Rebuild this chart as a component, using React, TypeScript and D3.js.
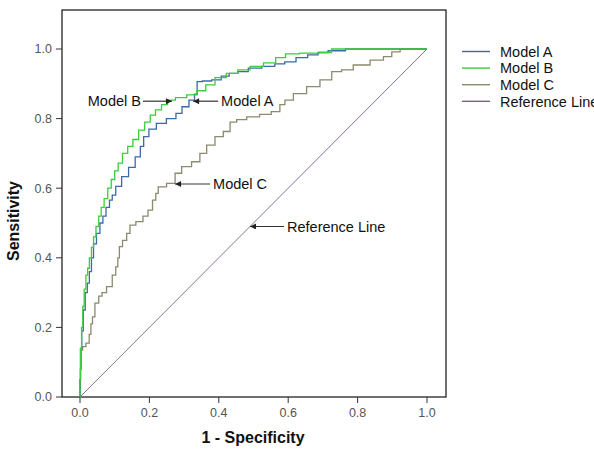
import React from "react";
import * as d3 from "d3";

// ROC curve points: [1 - specificity, sensitivity]
const modelA: [number, number][] = [
  [0, 0], [0, 0.05], [0.003, 0.14], [0.007, 0.19], [0.012, 0.25], [0.018, 0.3],
  [0.024, 0.327], [0.03, 0.36], [0.036, 0.4], [0.042, 0.44], [0.053, 0.47],
  [0.062, 0.5], [0.07, 0.52], [0.08, 0.545], [0.09, 0.566], [0.096, 0.58],
  [0.11, 0.605], [0.13, 0.633], [0.15, 0.66], [0.168, 0.69], [0.18, 0.72],
  [0.187, 0.748], [0.21, 0.77], [0.23, 0.786], [0.268, 0.8], [0.285, 0.815],
  [0.303, 0.834], [0.325, 0.853], [0.335, 0.87], [0.34, 0.906], [0.365, 0.908],
  [0.394, 0.911], [0.42, 0.922], [0.44, 0.93], [0.47, 0.935], [0.5, 0.945],
  [0.548, 0.95], [0.575, 0.957], [0.605, 0.963], [0.64, 0.975], [0.672, 0.983],
  [0.7, 0.99], [0.73, 0.995], [0.8, 1.0], [1, 1],
];

const modelB: [number, number][] = [
  [0, 0], [0, 0.05], [0.003, 0.14], [0.006, 0.2], [0.01, 0.26], [0.014, 0.31],
  [0.02, 0.35], [0.024, 0.37], [0.03, 0.4], [0.036, 0.43], [0.042, 0.46],
  [0.05, 0.49], [0.058, 0.52], [0.064, 0.545], [0.075, 0.57], [0.085, 0.6],
  [0.095, 0.625], [0.105, 0.65], [0.115, 0.672], [0.13, 0.7], [0.145, 0.72],
  [0.16, 0.74], [0.178, 0.767], [0.195, 0.79], [0.21, 0.81], [0.225, 0.825],
  [0.245, 0.84], [0.26, 0.853], [0.29, 0.86], [0.325, 0.868], [0.35, 0.88],
  [0.375, 0.897], [0.403, 0.918], [0.44, 0.93], [0.47, 0.94], [0.51, 0.95],
  [0.548, 0.96], [0.58, 0.975], [0.605, 0.986], [0.66, 0.988], [0.72, 0.99],
  [0.73, 1.0], [1, 1],
];

const modelC: [number, number][] = [
  [0, 0], [0.002, 0.08], [0.005, 0.135], [0.01, 0.145], [0.024, 0.155],
  [0.029, 0.18], [0.034, 0.21], [0.038, 0.23], [0.048, 0.27], [0.06, 0.29],
  [0.067, 0.3], [0.086, 0.317], [0.1, 0.35], [0.106, 0.374], [0.112, 0.4],
  [0.115, 0.432], [0.13, 0.45], [0.139, 0.47], [0.149, 0.494], [0.173, 0.504],
  [0.19, 0.52], [0.202, 0.537], [0.216, 0.566], [0.221, 0.585], [0.23, 0.604],
  [0.269, 0.614], [0.279, 0.643], [0.307, 0.662], [0.336, 0.676], [0.355, 0.7],
  [0.375, 0.724], [0.403, 0.748], [0.423, 0.763], [0.442, 0.79], [0.461, 0.797],
  [0.5, 0.805], [0.535, 0.812], [0.567, 0.82], [0.585, 0.84], [0.596, 0.853],
  [0.634, 0.872], [0.672, 0.892], [0.711, 0.911], [0.74, 0.935], [0.768, 0.94],
  [0.807, 0.954], [0.865, 0.968], [0.884, 0.978], [0.913, 0.992], [0.932, 1.0],
  [1, 1],
];

const referenceLine: [number, number][] = [[0, 0], [1, 1]];

const seriesNames = ["Model A", "Model B", "Model C", "Reference Line"];
const seriesColors = ["#3b6aa8", "#3ccc3c", "#8b8a6c", "#7a6480"];
const tickValues = [0, 0.2, 0.4, 0.6, 0.8, 1.0];

// Callout labels pointing at each curve: [label, fpr, tpr, side]
const callouts: [string, number, number, "left" | "right"][] = [
  ["Model B", 0.265, 0.85, "left"],
  ["Model A", 0.326, 0.85, "right"],
  ["Model C", 0.274, 0.612, "right"],
  ["Reference Line", 0.49, 0.49, "right"],
];

const W = 594;
const H = 459;
const font = "Liberation Sans, Arial, sans-serif";

export default function App() {
  const x = d3.scaleLinear().domain([0, 1]).range([80, 427]);
  const y = d3.scaleLinear().domain([0, 1]).range([397, 49]);

  const stepLine = d3
    .line<[number, number]>()
    .x((d) => x(d[0]))
    .y((d) => y(d[1]))
    .curve(d3.curveStep);
  const straight = d3
    .line<[number, number]>()
    .x((d) => x(d[0]))
    .y((d) => y(d[1]));

  const series = [modelA, modelB, modelC];
  const drawOrder = [2, 0, 1];

  const frame = { left: 62, top: 10, right: 446, bottom: 397 };

  return (
    <svg
      width={W}
      height={H}
      style={{ position: "absolute", left: 0, top: 0, background: "#fff" }}
      fontFamily={font}
    >
      <defs>
        <marker
          id="arrowhead"
          viewBox="0 0 10 10"
          refX="10"
          refY="5"
          markerWidth="8"
          markerHeight="6"
          markerUnits="userSpaceOnUse"
          orient="auto"
        >
          <path d="M0,0 L10,5 L0,10 z" fill="#222" />
        </marker>
      </defs>
      <rect width={W} height={H} fill="#fff" />

      {/* plot frame */}
      <rect
        x={frame.left}
        y={frame.top}
        width={frame.right - frame.left}
        height={frame.bottom - frame.top}
        fill="none"
        stroke="#111"
        strokeWidth={1.2}
      />

      {/* y axis ticks */}
      {tickValues.map((t) => (
        <g key={"y" + t}>
          <line x1={frame.left - 6} x2={frame.left} y1={y(t)} y2={y(t)} stroke="#333" />
          <text
            x={frame.left - 10}
            y={y(t)}
            dy="0.35em"
            textAnchor="end"
            fontSize={12.5}
            fill="#555"
          >
            {d3.format(".1f")(t)}
          </text>
        </g>
      ))}

      {/* x axis ticks */}
      {tickValues.map((t) => (
        <g key={"x" + t}>
          <line x1={x(t)} x2={x(t)} y1={frame.bottom} y2={frame.bottom + 6} stroke="#333" />
          <text x={x(t)} y={frame.bottom + 16} dy="0.35em" textAnchor="middle" fontSize={12.5} fill="#555">
            {d3.format(".1f")(t)}
          </text>
        </g>
      ))}

      {/* axis titles */}
      <text
        x={253}
        y={437}
        dy="0.35em"
        textAnchor="middle"
        fontSize={16}
        fontWeight="bold"
        fill="#111"
      >
        1 - Specificity
      </text>
      <text
        transform={`translate(13,${(y(0) + y(1)) / 2 - 2}) rotate(-90)`}
        dy="0.35em"
        textAnchor="middle"
        fontSize={16}
        fontWeight="bold"
        fill="#111"
      >
        Sensitivity
      </text>

      {/* reference diagonal */}
      <path d={straight(referenceLine) ?? ""} fill="none" stroke={seriesColors[3]} strokeWidth={0.9} />

      {/* ROC curves */}
      {drawOrder.map((i) => (
        <path
          key={seriesNames[i]}
          d={stepLine(series[i]) ?? ""}
          fill="none"
          stroke={seriesColors[i]}
          strokeWidth={1.3}
        />
      ))}

      {/* callouts */}
      {callouts.map(([label, fx, fy, side]) => {
        const tx = x(fx);
        const ty = y(fy);
        const len = side === "left" ? 29 : label === "Reference Line" ? 34 : label === "Model C" ? 35 : 25;
        const sx = side === "left" ? tx - len : tx + len;
        return (
          <g key={label}>
            <line
              x1={sx}
              y1={ty}
              x2={tx}
              y2={ty}
              stroke="#333"
              strokeWidth={1.2}
              markerEnd="url(#arrowhead)"
            />
            <text
              x={side === "left" ? sx - 2 : sx + 3}
              y={ty}
              dy="0.36em"
              textAnchor={side === "left" ? "end" : "start"}
              fontSize={14.5}
              fill="#111"
            >
              {label}
            </text>
          </g>
        );
      })}

      {/* legend */}
      {seriesNames.map((name, i) => {
        const ly = 51.5 + i * 16.6;
        return (
          <g key={"lg" + name}>
            <line x1={462} x2={490} y1={ly} y2={ly} stroke={seriesColors[i]} strokeWidth={1.4} />
            <text x={500} y={ly} dy="0.36em" fontSize={14.5} fill="#111">
              {name}
            </text>
          </g>
        );
      })}
    </svg>
  );
}
